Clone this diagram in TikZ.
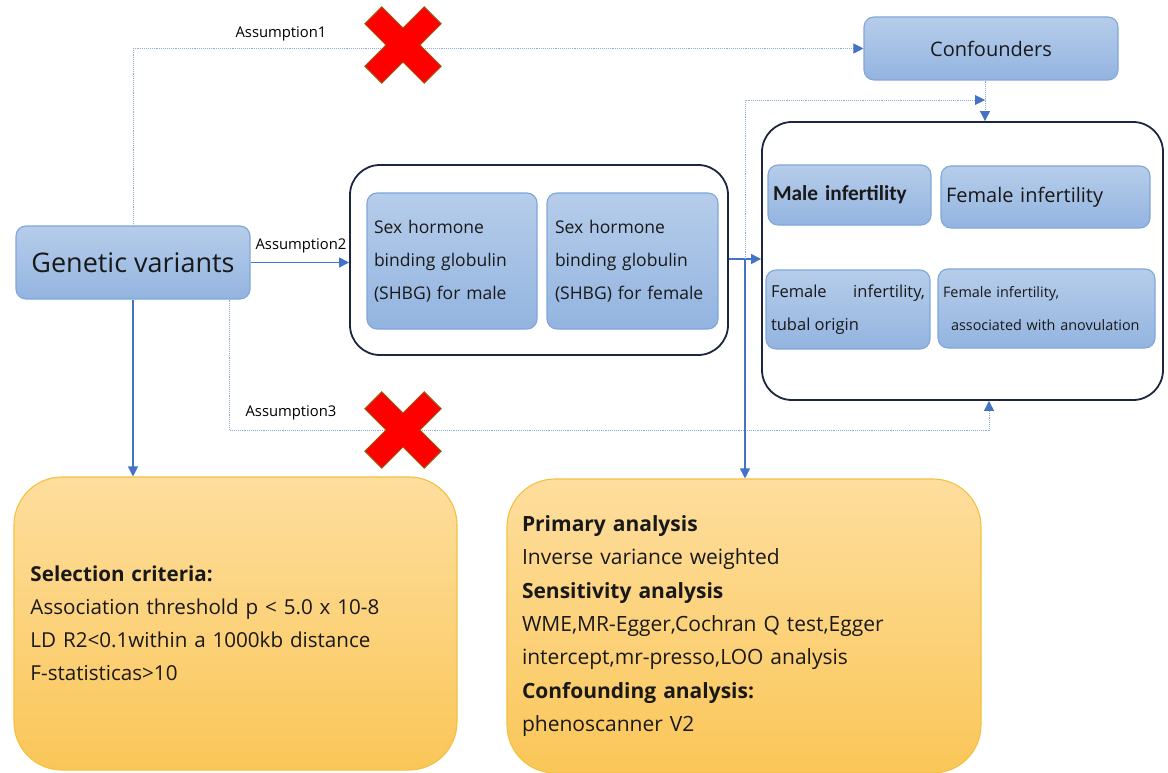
\documentclass[tikz,border=0pt]{standalone}
\usepackage{fontspec}
\setmainfont{Open Sans}
\newfontfamily\calibri{Carlito}
\usetikzlibrary{arrows.meta}

\definecolor{bluetop}{HTML}{B6CDEA}
\definecolor{bluebot}{HTML}{93B4E0}
\definecolor{boxedge}{HTML}{7FA7DA}
\definecolor{frameline}{HTML}{1C2640}
\definecolor{ytop}{HTML}{FEDE9E}
\definecolor{ybot}{HTML}{FAC658}
\definecolor{yedge}{HTML}{F4C040}
\definecolor{linkblue}{HTML}{4472C4}
\definecolor{dotblue}{HTML}{8EAADB}
\definecolor{crossedge}{HTML}{9A5B12}

\tikzset{
  bluebox/.style={rectangle, rounded corners=10pt, draw=boxedge, line width=1.1pt,
    top color=bluetop, bottom color=bluebot, inner sep=0pt, text=black!90},
  framebox/.style={rectangle, rounded corners=30pt, draw=frameline, line width=1.8pt, inner sep=0pt},
  yellowbox/.style={rectangle, rounded corners=48pt, draw=yedge, line width=1.1pt,
    top color=ytop, bottom color=ybot, inner sep=0pt, text=black!90},
  link/.style={draw=linkblue, line width=1.1pt, -{Triangle[length=10pt,width=10pt,color=linkblue]}},
  dotlink/.style={draw=dotblue, line width=0.9pt, densely dotted, -{Triangle[length=10pt,width=10pt,color=linkblue]}},
  tag/.style={font=\fontsize{14.8}{17}\selectfont, inner sep=0pt},
  nogo/.pic={
    \filldraw[fill=red, draw=crossedge, line width=1pt, rotate=45]
      (12,12) -- (42,12) -- (42,-12) -- (12,-12) -- (12,-42) -- (-12,-42) -- (-12,-12)
      -- (-42,-12) -- (-42,12) -- (-12,12) -- (-12,42) -- (12,42) -- cycle;
  }
}

\begin{document}
\begin{tikzpicture}[x=1pt,y=-1pt]
  \useasboundingbox (0,0) rectangle (1168,773);

  % exposure side
  \node[bluebox, minimum width=234pt, minimum height=73pt, font=\fontsize{27}{32}\selectfont] (gv) at (133,262.5) {Genetic variants};
  \node[bluebox, minimum width=254pt, minimum height=63pt, font=\fontsize{20}{24}\selectfont] (conf) at (991,48.5) {Confounders};

  \node[framebox, minimum width=378pt, minimum height=190pt] (shbg) at (539,260) {};
  \node[bluebox, minimum width=170pt, minimum height=136pt, text width=156pt, align=left,
    font=\fontsize{17.5}{33}\selectfont] (shbgm) at (452,261) {Sex hormone\\binding globulin\\(SHBG) for male};
  \node[bluebox, minimum width=171pt, minimum height=136pt, text width=155pt, align=left,
    font=\fontsize{17.5}{33}\selectfont] (shbgf) at (632.5,261) {Sex hormone\\binding globulin\\(SHBG) for female};

  % outcomes
  \node[framebox, minimum width=401pt, minimum height=278pt] (outcome) at (962.5,261) {};
  \node[bluebox, minimum width=163pt, minimum height=60pt, text width=153pt, align=left,
    font=\calibri\bfseries\fontsize{21.3}{25}\selectfont] (maleinf) at (849.5,195) {Male infertility};
  \node[bluebox, minimum width=209pt, minimum height=62pt, text width=199pt, align=left,
    font=\fontsize{20}{24}\selectfont] (femaleinf) at (1045.5,197) {Female infertility};
  \node[bluebox, minimum width=164pt, minimum height=79pt, text width=154pt, align=justify,
    font=\fontsize{16.5}{33}\selectfont] (tubal) at (848,309.5) {Female infertility,\linebreak tubal origin};
  \node[bluebox, minimum width=217pt, minimum height=79pt, text width=207pt, align=left,
    font=\fontsize{14.4}{33}\selectfont] (anov) at (1046.5,308.5) {Female infertility,\\\hspace*{8pt}associated with anovulation};

  % methods
  \node[yellowbox, minimum width=443pt, minimum height=293pt, text width=410pt, align=left,
    font=\fontsize{20.6}{33}\selectfont] (select) at (235.5,623.5)
    {\textbf{Selection criteria:}\\Association threshold p < 5.0 x 10-8\\LD R2<0.1within a 1000kb distance\\F-statisticas>10};
  \node[yellowbox, minimum width=474pt, minimum height=294pt, text width=444pt, align=left,
    font=\fontsize{21}{33.3}\selectfont] (analysis) at (744,626)
    {\textbf{Primary analysis}\\Inverse variance weighted\\\textbf{Sensitivity analysis}\\WME,MR-Egger,Cochran Q test,Egger\\intercept,mr-presso,LOO analysis\\\textbf{Confounding analysis:}\\phenoscanner V2};

  % assumptions
  \node[tag] (lbl1) at (281,34) {Assumption1};
  \node[tag] (lbl2) at (301,246) {Assumption2};
  \node[tag] (lbl3) at (291,413) {Assumption3};

  \coordinate (split) at (745,259);
  \coordinate (cfjoin) at (985,100);
  \coordinate (a3turn) at (989,430);

  \draw[dotlink] (gv.north) |- (conf.west);
  \draw[link] (gv.east) -- (gv.east -| shbg.west);
  \draw[dotlink] ([xshift=-21pt]gv.south east) |- (a3turn) -- (a3turn |- outcome.south);
  \draw[link] (gv.south) -- (gv.south |- select.north);
  \draw[link] (shbg.east |- split) -- (split -| outcome.west);
  \draw[dotlink] (split) |- (cfjoin);
  \draw[dotlink] (cfjoin |- conf.south) -- (cfjoin |- outcome.north);
  \draw[link] (split) -- (split |- analysis.north);

  \pic at (403,45) {nogo};
  \pic at (403,430) {nogo};
\end{tikzpicture}
\end{document}
